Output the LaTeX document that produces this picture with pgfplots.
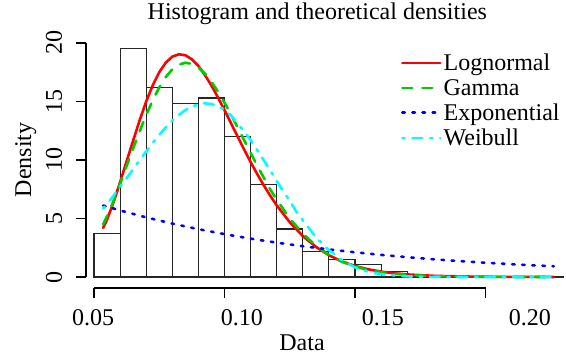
\documentclass[border=0pt]{standalone}
\usepackage{pgfplots}
\pgfplotsset{compat=1.18}
\usepackage{fontspec}
\setmainfont{Liberation Serif}
\definecolor{rgreen}{RGB}{0,205,0}
\definecolor{rcyan}{RGB}{0,255,255}
\definecolor{rred}{RGB}{255,0,0}
\definecolor{rblue}{RGB}{0,0,255}
\newcommand{\bigfont}{\fontsize{24bp}{28bp}\selectfont}
\begin{document}
\begin{tikzpicture}
\begin{axis}[
  name=ax,
  scale only axis, width=479bp, height=253bp,
  xmin=0.04693, xmax=0.23046, ymin=-0.94, ymax=20.68,
  clip=false,
  axis x line*=bottom, axis y line*=left,
  axis line style={draw=none},
  tick align=outside,
  major tick length=10bp,
  every tick/.style={black, line width=1.4bp},
  font=\bigfont,
  /pgf/number format/assume math mode=true,
  xtick={0.05,0.10,0.15,0.20}, xticklabels={},
  extra x ticks={0.04962,0.1067,0.1607,0.2170},
  extra x tick labels={0.05,0.10,0.15,0.20},
  extra x tick style={major tick length=0pt, xticklabel style={anchor=base, yshift=-37bp}},
  ytick={0,5,10,15,20},
  yticklabel style={rotate=90, anchor=base, yshift=14bp},
  title={Histogram and theoretical densities},
  title style={at={(0.483,1)}, anchor=base, yshift=10bp, font=\bigfont},
  xlabel={Data},
  xlabel style={at={(0.451,0)}, anchor=base, yshift=-62bp, font=\bigfont},
  ylabel={Density},
  ylabel style={at={(-0.1148,0.506)}, anchor=base, font=\bigfont},
  legend style={at={(0.651,0.941)}, anchor=north west, draw=none, fill=none, font=\bigfont, row sep=3bp},
  legend cell align=left,
  legend image code/.code={\draw[#1] (0bp,0bp) -- (38bp,0bp);},
]
\addplot[ybar interval, draw=black!85, fill=white, line width=1.1bp, forget plot] coordinates {
(0.05,3.7) (0.06,19.5) (0.07,16.2) (0.08,14.8) (0.09,15.3) (0.10,12.0) (0.11,7.9) (0.12,4.1) (0.13,2.2) (0.14,1.5) (0.15,1.1) (0.16,0.45) (0.17,0.1) (0.18,0) (0.19,0) (0.20,0) (0.21,0) (0.22,0) (0.23,0)};
\addplot[rred, line width=2.6bp, line cap=round, line join=round] coordinates {
(0.0535,4.2) (0.055,4.9) (0.0575,6.4) (0.06,8.1) (0.0625,9.9) (0.065,11.65) (0.0675,13.4) (0.07,15.0) (0.0725,16.38) (0.075,17.5) (0.0775,18.32) (0.08,18.83) (0.0825,19.03) (0.085,18.95) (0.0875,18.6) (0.09,18.03) (0.0925,17.26) (0.095,16.36) (0.0975,15.34) (0.10,14.26) (0.1025,13.14) (0.105,12.01) (0.1075,10.9) (0.11,9.83) (0.1125,8.81) (0.115,7.85) (0.1175,6.96) (0.12,6.12) (0.125,4.68) (0.13,3.5) (0.135,2.58) (0.14,1.86) (0.145,1.33) (0.15,0.94) (0.155,0.66) (0.16,0.46) (0.165,0.32) (0.17,0.22) (0.18,0.1) (0.19,0.05) (0.20,0.02) (0.21,0.01) (0.2262,0.004)};
\addlegendentry{Lognormal}
\addplot[rgreen, line width=2.6bp, line cap=round, dash pattern=on 10bp off 10bp] coordinates {
(0.0535,4.5) (0.055,5.2) (0.0575,6.5) (0.06,7.95) (0.0625,9.5) (0.065,11.0) (0.0675,12.45) (0.07,13.85) (0.0725,15.1) (0.075,16.2) (0.0775,17.09) (0.08,17.75) (0.0825,18.15) (0.085,18.31) (0.0875,18.22) (0.09,17.9) (0.0925,17.38) (0.095,16.68) (0.0975,15.84) (0.10,14.9) (0.1025,13.87) (0.105,12.79) (0.1075,11.7) (0.11,10.6) (0.1125,9.54) (0.115,8.5) (0.1175,7.5) (0.12,6.6) (0.125,5.0) (0.13,3.7) (0.135,2.68) (0.14,1.9) (0.145,1.3) (0.15,0.89) (0.155,0.6) (0.16,0.4) (0.17,0.17) (0.18,0.066) (0.19,0.025) (0.20,0.009) (0.21,0.003) (0.2262,0.0005)};
\addlegendentry{Gamma}
\addplot[rblue, line width=2.6bp, line cap=round, dash pattern=on 2.5bp off 7.6bp] coordinates {
(0.0535,6.109) (0.06,5.687) (0.07,5.094) (0.08,4.563) (0.09,4.087) (0.10,3.661) (0.11,3.279) (0.12,2.937) (0.13,2.631) (0.14,2.357) (0.15,2.111) (0.16,1.891) (0.17,1.694) (0.18,1.517) (0.19,1.359) (0.20,1.218) (0.21,1.091) (0.22,0.977) (0.2262,0.92)};
\addlegendentry{Exponential}
\addplot[rcyan, line width=2.6bp, line cap=round, dash pattern=on 2.5bp off 7.6bp on 10bp off 7.6bp] coordinates {
(0.0535,5.85) (0.055,6.25) (0.0575,6.95) (0.06,7.7) (0.0625,8.45) (0.065,9.22) (0.0675,9.98) (0.07,10.73) (0.0725,11.46) (0.075,12.15) (0.0775,12.79) (0.08,13.36) (0.0825,13.85) (0.085,14.26) (0.0875,14.56) (0.09,14.76) (0.0925,14.84) (0.095,14.78) (0.0975,14.6) (0.10,14.3) (0.1025,13.8) (0.105,13.1) (0.1075,12.45) (0.11,11.7) (0.1125,10.85) (0.115,10.0) (0.1175,9.1) (0.12,8.2) (0.1225,7.35) (0.125,6.5) (0.1275,5.6) (0.13,4.85) (0.135,3.4) (0.14,2.3) (0.145,1.45) (0.15,0.82) (0.155,0.45) (0.16,0.24) (0.17,0.05) (0.18,0.01) (0.19,0.001) (0.2262,0)};
\addlegendentry{Weibull}
\draw[line width=1.4bp] (axis cs:0.05,-0.94) -- (axis cs:0.20,-0.94);
\draw[line width=1.4bp] (axis cs:0.04693,0) -- (axis cs:0.04693,20);
\end{axis}
\pgfresetboundingbox
\path ([shift={(-86bp,-69bp)}]ax.south west) rectangle ++(566bp,357bp);
\end{tikzpicture}
\end{document}
